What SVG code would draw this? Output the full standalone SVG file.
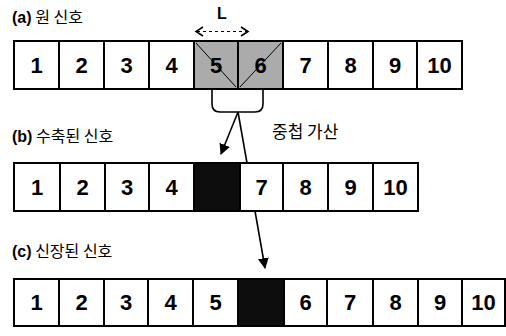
<svg xmlns="http://www.w3.org/2000/svg" width="506" height="336" viewBox="0 0 506 336">
<style>
.box{fill:#fff;stroke:#000;stroke-width:2}
.gray{fill:#ababab;stroke:#000;stroke-width:2}
.blk{fill:#0d0d0d;stroke:#000;stroke-width:2}
.num{font-family:"Liberation Sans",Arial,sans-serif;font-weight:bold;font-size:22px;text-anchor:middle;fill:#000}
.lab{font-family:"Liberation Sans","Noto Sans CJK KR",sans-serif;font-size:16px;fill:#000}
.b{font-weight:bold}
.kr{font-family:"Noto Sans CJK KR",sans-serif}
.ln{stroke:#000;stroke-width:1.6;fill:none}
</style>
<defs>
<marker id="ah" viewBox="0 0 10 10" refX="9" refY="5" markerWidth="11" markerHeight="11" orient="auto" markerUnits="userSpaceOnUse">
<path d="M0,0 L10,5 L0,10 z" fill="#000"/>
</marker>
</defs>
<g id="title-a"><text class="lab" x="12" y="23"><tspan class="b">(a)</tspan><tspan class="kr"> 원 신호</tspan></text></g>
<g id="L-label">
<text x="222" y="19" font-family="Liberation Sans,Arial,sans-serif" font-weight="bold" font-size="16" text-anchor="middle">L</text>
<path class="ln" d="M203,27 L196,31.5 L203,36 M241,27 L248,31.5 L241,36" stroke-width="1.2"/>
<line x1="197" y1="31.5" x2="247" y2="31.5" stroke="#000" stroke-width="1.2" stroke-dasharray="3,3"/>
</g>
<g id="row-a">
<rect class="box" x="14" y="41" width="45" height="48"/><text class="num" x="36.5" y="73">1</text>
<rect class="box" x="59" y="41" width="45" height="48"/><text class="num" x="81.5" y="73">2</text>
<rect class="box" x="104" y="41" width="45" height="48"/><text class="num" x="126.5" y="73">3</text>
<rect class="box" x="149" y="41" width="45" height="48"/><text class="num" x="171.5" y="73">4</text>
<rect class="gray" x="194" y="41" width="44" height="48"/><text class="num" x="216" y="73">5</text>
<rect class="gray" x="238" y="41" width="45" height="48"/><text class="num" x="260.5" y="73">6</text>
<line x1="196" y1="43" x2="236" y2="87" stroke="#000" stroke-width="1"/>
<line x1="240" y1="87" x2="281" y2="43" stroke="#000" stroke-width="1"/>
<rect class="box" x="283" y="41" width="45" height="48"/><text class="num" x="305.5" y="73">7</text>
<rect class="box" x="328" y="41" width="45" height="48"/><text class="num" x="350.5" y="73">8</text>
<rect class="box" x="373" y="41" width="44" height="48"/><text class="num" x="395" y="73">9</text>
<rect class="box" x="417" y="41" width="45" height="48"/><text class="num" x="439.5" y="73">10</text>
</g>
<g id="overlap-add">
<path class="ln" d="M212,89 L212,104 Q212,112 220,112 L255,112 Q263,112 263,104 L263,89"/>
<text x="272" y="138" font-family="Noto Sans CJK KR,sans-serif" font-size="17">중첩 가산</text>
</g>
<g id="title-b"><text class="lab" x="12" y="142"><tspan class="b">(b)</tspan><tspan class="kr"> 수축된 신호</tspan></text></g>
<g id="row-b">
<rect class="box" x="14" y="163" width="46" height="48"/><text class="num" x="37" y="195">1</text>
<rect class="box" x="60" y="163" width="45" height="48"/><text class="num" x="82.5" y="195">2</text>
<rect class="box" x="105" y="163" width="44" height="48"/><text class="num" x="127" y="195">3</text>
<rect class="box" x="149" y="163" width="45" height="48"/><text class="num" x="171.5" y="195">4</text>
<rect class="blk" x="194" y="163" width="46" height="48"/>
<rect class="box" x="240" y="163" width="43" height="48"/><text class="num" x="261.5" y="195">7</text>
<rect class="box" x="283" y="163" width="45" height="48"/><text class="num" x="305.5" y="195">8</text>
<rect class="box" x="328" y="163" width="45" height="48"/><text class="num" x="350.5" y="195">9</text>
<rect class="box" x="373" y="163" width="45" height="48"/><text class="num" x="395.5" y="195">10</text>
</g>
<g id="title-c"><text class="lab" x="12" y="257"><tspan class="b">(c)</tspan><tspan class="kr"> 신장된 신호</tspan></text></g>
<g id="row-c">
<rect class="box" x="14" y="279" width="45" height="47"/><text class="num" x="36.5" y="310">1</text>
<rect class="box" x="59" y="279" width="45" height="47"/><text class="num" x="81.5" y="310">2</text>
<rect class="box" x="104" y="279" width="44" height="47"/><text class="num" x="126" y="310">3</text>
<rect class="box" x="148" y="279" width="45" height="47"/><text class="num" x="170.5" y="310">4</text>
<rect class="box" x="193" y="279" width="45" height="47"/><text class="num" x="215.5" y="310">5</text>
<rect class="blk" x="238" y="279" width="46" height="47"/>
<rect class="box" x="284" y="279" width="43" height="47"/><text class="num" x="305.5" y="310">6</text>
<rect class="box" x="327" y="279" width="46" height="47"/><text class="num" x="350" y="310">7</text>
<rect class="box" x="373" y="279" width="45" height="47"/><text class="num" x="395.5" y="310">8</text>
<rect class="box" x="418" y="279" width="44" height="47"/><text class="num" x="440" y="310">9</text>
<rect class="box" x="462" y="279" width="43" height="47"/><text class="num" x="483.5" y="310">10</text>
</g>
<g id="connectors">
<line class="ln" x1="238" y1="112" x2="221" y2="154" marker-end="url(#ah)"/>
<line class="ln" x1="238" y1="112" x2="247" y2="163"/>
<line class="ln" x1="255" y1="211" x2="265" y2="268" marker-end="url(#ah)"/>
</g>
</svg>
